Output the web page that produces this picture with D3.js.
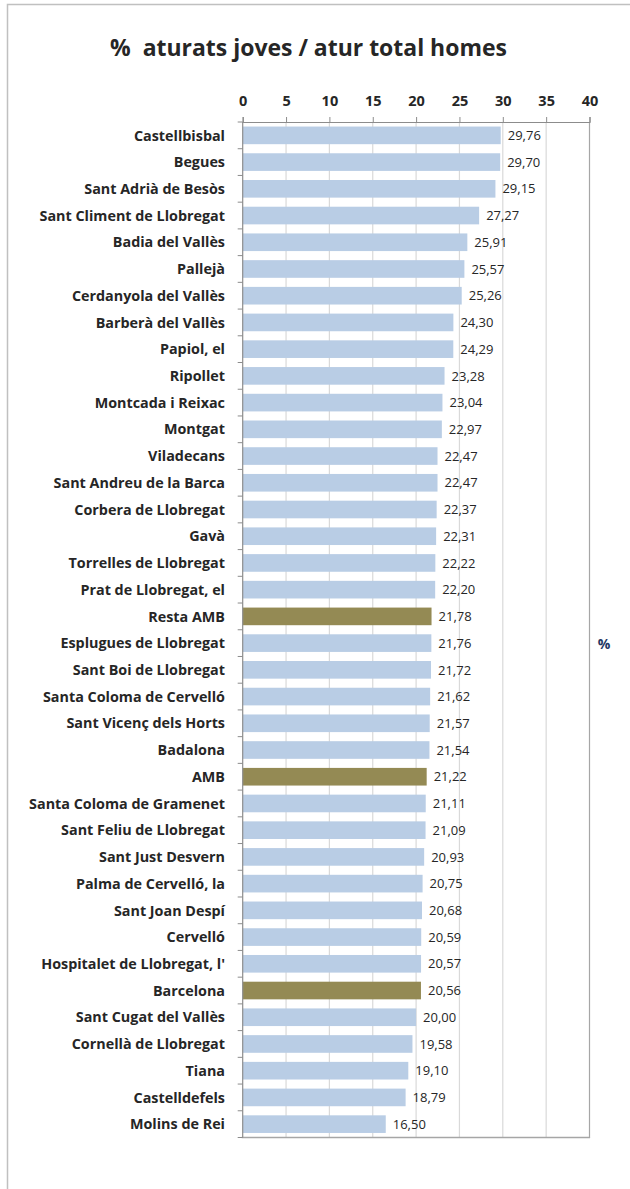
<!DOCTYPE html>
<html><head><meta charset="utf-8">
<script src="https://cdn.jsdelivr.net/npm/d3@7"></script>
<style>body{margin:0;background:#fff}svg{display:block}</style>
</head><body>
<script>
const categories = ["Castellbisbal","Begues","Sant Adrià de Besòs","Sant Climent de Llobregat","Badia del Vallès","Pallejà","Cerdanyola del Vallès","Barberà del Vallès","Papiol, el","Ripollet","Montcada i Reixac","Montgat","Viladecans","Sant Andreu de la Barca","Corbera de Llobregat","Gavà","Torrelles de Llobregat","Prat de Llobregat, el","Resta AMB","Esplugues de Llobregat","Sant Boi de Llobregat","Santa Coloma de Cervelló","Sant Vicenç dels Horts","Badalona","AMB","Santa Coloma de Gramenet","Sant Feliu de Llobregat","Sant Just Desvern","Palma de Cervelló, la","Sant Joan Despí","Cervelló","Hospitalet de Llobregat, l'","Barcelona","Sant Cugat del Vallès","Cornellà de Llobregat","Tiana","Castelldefels","Molins de Rei"];
const values = [29.76,29.70,29.15,27.27,25.91,25.57,25.26,24.30,24.29,23.28,23.04,22.97,22.47,22.47,22.37,22.31,22.22,22.20,21.78,21.76,21.72,21.62,21.57,21.54,21.22,21.11,21.09,20.93,20.75,20.68,20.59,20.57,20.56,20.00,19.58,19.10,18.79,16.50];
const highlighted = ["Resta AMB","AMB","Barcelona"];
const xTicks = [0,5,10,15,20,25,30,35,40];
const title = "%  aturats joves / atur total homes";
const sideLabel = "%";

(function(){
const W = 630, H = 1189;
const font = "'Open Sans', sans-serif";
const svg = d3.select("body").append("svg").attr("width", W).attr("height", H);

// outer frame
svg.append("path").attr("d", `M7.5,${H} V4.5 H${W}`).attr("fill","none").attr("stroke","#c0c0c0").attr("stroke-width",1.5);

const pL = 242.7, pR = 589.5, pT = 122, pB = 1137.5;
const x = d3.scaleLinear().domain([0,40]).range([pL,pR]);
const y = d3.scaleBand().domain(categories).range([pT,pB]).paddingInner(0.34).paddingOuter(0.17);

// gridlines
svg.append("g").selectAll("line").data(xTicks.slice(1, -1)).join("line")
  .attr("x1", d=>x(d)).attr("x2", d=>x(d)).attr("y1", pT).attr("y2", pB)
  .attr("stroke", "#d9d9d9").attr("stroke-width", 1.2);

// bars
svg.append("g").selectAll("rect").data(categories).join("rect")
  .attr("x", x(0)).attr("y", d=>y(d)).attr("height", y.bandwidth())
  .attr("width", (d,i)=>x(values[i])-x(0))
  .attr("fill", d=> highlighted.includes(d) ? "#948a54" : "#b9cde5");

// right border of plot
svg.append("line").attr("x1", pR).attr("x2", pR).attr("y1", pT).attr("y2", pB).attr("stroke","#a6a6a6").attr("stroke-width",1.2);
// bottom line
svg.append("line").attr("x1", pL-1).attr("x2", pR+0.6).attr("y1", pB).attr("y2", pB).attr("stroke","#a6a6a6").attr("stroke-width",1.5);

// top axis
const xAxis = d3.axisTop(x).tickValues(xTicks).tickSize(5).tickPadding(11).tickFormat(d3.format("d"));
const gx = svg.append("g").attr("transform", `translate(0,${pT})`).call(xAxis);
gx.select(".domain").attr("stroke","#8c8c8c").attr("stroke-width",1.2);
gx.selectAll(".tick line").attr("stroke","#8c8c8c");
gx.selectAll("text").attr("font-family", font).attr("font-weight","bold").attr("font-size", 14.5).attr("fill","#262626");

// left axis with ticks at band boundaries
const bounds = d3.range(categories.length+1).map(i => pT + i*(pB-pT)/categories.length);
svg.append("g").selectAll("line").data(bounds).join("line")
  .attr("x1", pL-5).attr("x2", pL).attr("y1", d=>d).attr("y2", d=>d)
  .attr("stroke","#8c8c8c");
svg.append("line").attr("x1", pL).attr("x2", pL).attr("y1", pT).attr("y2", pB).attr("stroke","#8c8c8c").attr("stroke-width",1.2);

// category labels
const cat = svg.append("g").selectAll("text").data(categories).join("text")
  .attr("x", 225).attr("y", d=>y(d)+y.bandwidth()/2).attr("dy","0.36em")
  .attr("text-anchor","end").attr("font-family", font).attr("font-weight","bold")
  .attr("font-size", 13).attr("fill","#262626").text(d=>d);
const maxW = d3.max(cat.nodes(), n => n.getComputedTextLength());
cat.attr("font-size", 13 * 196 / maxW);

// value labels
const fmt = v => v.toFixed(2).replace(".", ",");
svg.append("g").selectAll("text").data(categories).join("text")
  .attr("x", (d,i)=>x(values[i])+7).attr("y", d=>y(d)+y.bandwidth()/2).attr("dy","0.36em")
  .attr("font-family", font).attr("font-size", 13).attr("fill","#262626")
  .text((d,i)=>fmt(values[i]));

// title
const t = svg.append("text").attr("x", 308.5).attr("y", 56).attr("text-anchor","middle")
  .attr("xml:space","preserve").style("white-space","pre")
  .attr("font-family", font).attr("font-weight","bold").attr("font-size", 22).attr("fill","#262626").text(title);
const tw = t.node().getComputedTextLength();
t.attr("font-size", 22 * 397 / tw);

// side label
svg.append("text").attr("x", 604).attr("y", 649).attr("text-anchor","middle")
  .attr("font-family", font).attr("font-weight","bold").attr("font-size", 14).attr("fill","#1f3864").text(sideLabel);
})();
</script>
</body></html>
